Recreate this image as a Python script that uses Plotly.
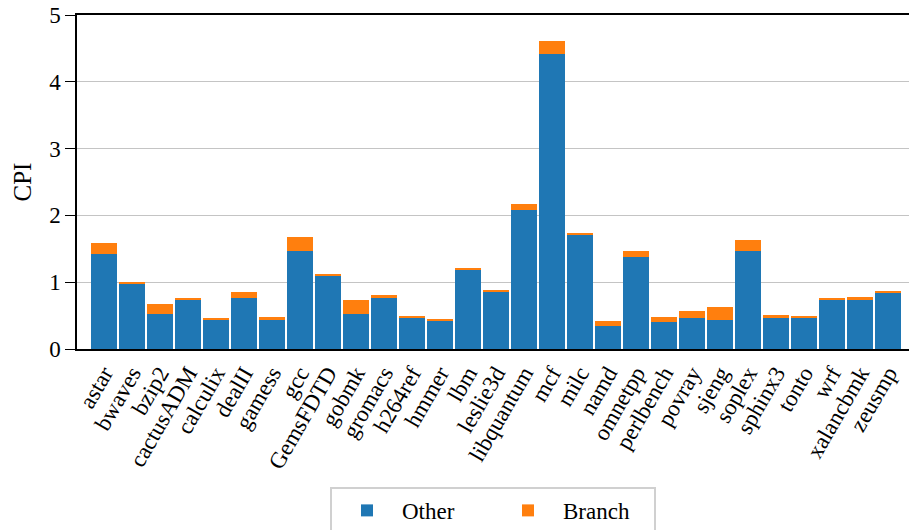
import plotly.graph_objects as go

benchmarks = ["astar", "bwaves", "bzip2", "cactusADM", "calculix", "dealII", "gamess",
              "gcc", "GemsFDTD", "gobmk", "gromacs", "h264ref", "hmmer", "lbm",
              "leslie3d", "libquantum", "mcf", "milc", "namd", "omnetpp", "perlbench",
              "povray", "sjeng", "soplex", "sphinx3", "tonto", "wrf", "xalancbmk", "zeusmp"]

cpi_other = [1.42, 0.98, 0.52, 0.74, 0.43, 0.76, 0.44, 1.46, 1.10, 0.53, 0.77, 0.47,
             0.43, 1.19, 0.86, 2.08, 4.41, 1.72, 0.34, 1.37, 0.40, 0.46, 0.43, 1.46,
             0.46, 0.47, 0.74, 0.74, 0.85]

cpi_branch = [0.165, 0.03, 0.15, 0.015, 0.03, 0.09, 0.045, 0.21, 0.015, 0.21, 0.045,
              0.03, 0.015, 0.015, 0.015, 0.09, 0.195, 0.015, 0.075, 0.09, 0.075, 0.105,
              0.195, 0.165, 0.045, 0.03, 0.015, 0.045, 0.015]

y_ticks = [0, 1, 2, 3, 4, 5]

FONT = "Liberation Serif"
x_pos = list(range(len(benchmarks)))

fig = go.Figure()
fig.add_trace(go.Bar(x=x_pos, y=cpi_other, name="Other", marker_color="#1f77b4",
                     marker_line_width=0))
fig.add_trace(go.Bar(x=x_pos, y=cpi_branch, name="Branch", marker_color="#ff7f0e",
                     marker_line_width=0))

fig.update_layout(
    width=909, height=530,
    barmode="stack", bargap=0.08,
    plot_bgcolor="white", paper_bgcolor="white",
    margin=dict(l=77, r=0, t=15, b=181, autoexpand=False),
    font=dict(family=FONT, size=23, color="black"),
    showlegend=True,
    legend=dict(orientation="h", x=0.5, xanchor="center", y=-0.413, yanchor="top",
                bordercolor="#d0d0d0", borderwidth=2, font=dict(size=23),
                itemwidth=60, entrywidth=86, entrywidthmode="pixels",
                traceorder="normal"),
)

fig.update_xaxes(
    range=[-0.96, 28.75],
    tickmode="array", tickvals=x_pos, ticktext=benchmarks,
    tickangle=-60, ticks="outside", ticklen=0, automargin=False,
    showline=True, linecolor="black", linewidth=1.5, mirror=True,
    showgrid=False, zeroline=False,
    tickfont=dict(family=FONT, size=23),
)

fig.update_yaxes(
    range=[0, 5], tickvals=y_ticks, automargin=False,
    ticks="outside", ticklen=10, tickcolor="black", tickwidth=1.3,
    showline=True, linecolor="black", linewidth=1.5,
    showgrid=True, gridcolor="#c4c4c4", gridwidth=1.3,
    zeroline=False,
    title=dict(text="CPI", font=dict(family=FONT, size=25), standoff=10),
    tickfont=dict(family=FONT, size=23),
)

fig.write_html("out.html")
